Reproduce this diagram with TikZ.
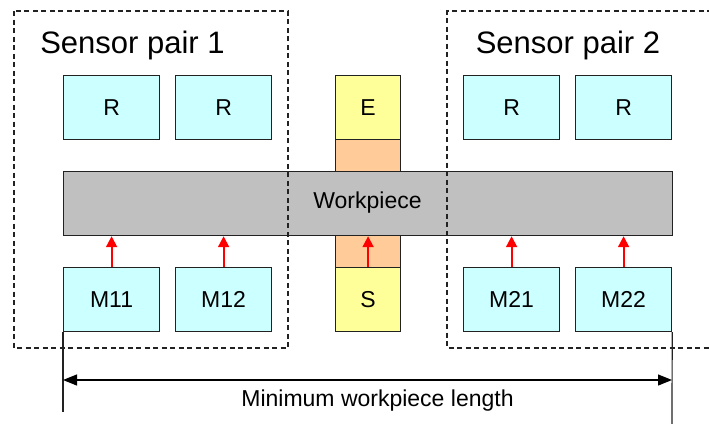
\documentclass[tikz,border=0pt]{standalone}
\usepackage{fontspec}
\setmainfont{Liberation Sans}
\usetikzlibrary{arrows.meta}
\definecolor{sensorcyan}{HTML}{CCFFFF}
\definecolor{emitteryellow}{HTML}{FFFF99}
\definecolor{beamorange}{HTML}{FFCC99}
\definecolor{workgray}{HTML}{C0C0C0}
\definecolor{edgegray}{HTML}{222222}
\tikzset{
  unitbox/.style={draw=edgegray, line width=1.2pt, fill=sensorcyan, minimum width=96pt, minimum height=64pt, inner sep=0pt, font=\fontsize{23}{23}\selectfont, anchor=north west},
  ebox/.style={unitbox, fill=emitteryellow, minimum width=65pt},
  beam/.style={draw=edgegray, line width=1.2pt, fill=beamorange, minimum width=65pt, minimum height=32pt, inner sep=0pt, anchor=north west},
  pairframe/.style={draw=edgegray, line width=1.2pt, dash pattern=on 5pt off 3.5pt},
  ray/.style={draw=red, line width=2pt, -{Triangle[width=11pt,length=11pt]}},
  dimline/.style={black, line width=1.2pt, {Triangle[width=11pt,length=14pt]}-{Triangle[width=11pt,length=14pt]}},
  extline/.style={edgegray, line width=1.2pt},
  grouplabel/.style={font=\fontsize{31}{31}\selectfont, inner sep=0pt},
  plainlabel/.style={font=\fontsize{23}{23}\selectfont, inner sep=0pt}
}
\begin{document}
\begin{tikzpicture}[x=1pt, y=-1pt]
\useasboundingbox (0,0) rectangle (709,423);

% emitter and receiver columns around the workpiece
\node[ebox] (E) at (335,75) {E};
\node[beam] (beamtop) at (335,139) {};
\node[beam] (beambot) at (335,235) {};
\node[ebox] (S) at (335,267) {S};

% workpiece
\node[draw=edgegray, line width=1.2pt, fill=workgray, minimum width=609pt, minimum height=64pt, inner sep=0pt, anchor=north west] (wp) at (63,171) {};
\node[plainlabel] (wplabel) at (367.5,203) {Workpiece};

% receivers
\node[unitbox] (R1) at (63,75) {R};
\node[unitbox] (R2) at (175,75) {R};
\node[unitbox] (R3) at (463,75) {R};
\node[unitbox] (R4) at (575,75) {R};

% measuring sensors
\node[unitbox] (M11) at (63,267) {M11};
\node[unitbox] (M12) at (175,267) {M12};
\node[unitbox] (M21) at (463,267) {M21};
\node[unitbox] (M22) at (575,267) {M22};

% sensor pair frames
\draw[pairframe] (14,11) rectangle (288,348);
\draw[pairframe] (712,11) -- (447,11) -- (447,348) -- (712,348);
\node[grouplabel] (pair1) at (132.5,45) {Sensor pair 1};
\node[grouplabel] (pair2) at (568,45) {Sensor pair 2};

% beams from sensors to the workpiece
\draw[ray] (M11.north) -- (M11.north |- wp.south);
\draw[ray] (M12.north) -- (M12.north |- wp.south);
\draw[ray] (S.north) -- (S.north |- wp.south);
\draw[ray] (M21.north) -- (M21.north |- wp.south);
\draw[ray] (M22.north) -- (M22.north |- wp.south);

% length dimension
\coordinate (extL) at (63,412);
\coordinate (extR) at (672,425);
\draw[extline] (M11.south west) -- (extL);
\draw[extline] (M22.south east) -- (extR);
\coordinate (dimL) at (63,380);
\coordinate (dimR) at (672,380);
\draw[dimline] (dimL) -- (dimR);
\node[plainlabel] (dimlabel) at (377.5,401) {Minimum workpiece length};
\end{tikzpicture}
\end{document}
